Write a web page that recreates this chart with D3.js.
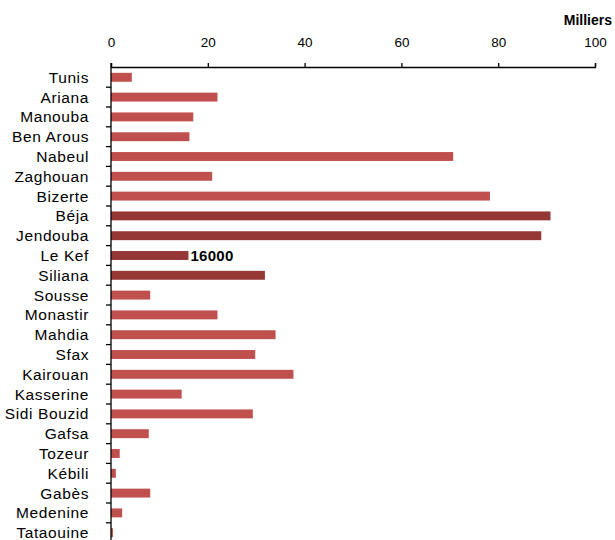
<!DOCTYPE html>
<html><head><meta charset="utf-8">
<script src="https://cdn.jsdelivr.net/npm/d3@7/dist/d3.min.js"></script>
<style>
body{margin:0;background:#fff;}
svg{display:block;font-family:"Liberation Sans",Arial,sans-serif;}
</style></head><body>
<svg id="c" width="615" height="540"></svg>
<script>
const categories = ["Tunis","Ariana","Manouba","Ben Arous","Nabeul","Zaghouan","Bizerte","Béja","Jendouba","Le Kef","Siliana","Sousse","Monastir","Mahdia","Sfax","Kairouan","Kasserine","Sidi Bouzid","Gafsa","Tozeur","Kébili","Gabès","Medenine","Tataouine"];
const values = [4.3,22.0,17.0,16.2,70.7,20.9,78.3,90.8,88.9,16.0,31.8,8.1,22.0,34.0,29.8,37.7,14.6,29.3,7.8,1.8,1.0,8.1,2.3,0.4];
const highlighted = ["Béja","Jendouba","Le Kef","Siliana"];
const xTicks = [0,20,40,60,80,100];
const unitLabel = "Milliers";
const annotated = {cat:"Le Kef", text:"16000"};

const svg = d3.select("#c");
const x = d3.scaleLinear().domain([0,100]).range([111,595]);
const y = d3.scaleBand().domain(categories).range([67.4, 67.4+24*19.8]).paddingInner(0.55).paddingOuter(0.275);

// bars
svg.append("g").selectAll("rect").data(categories).join("rect")
  .attr("x", x(0))
  .attr("y", d => y(d))
  .attr("width", (d,i) => x(values[i]) - x(0))
  .attr("height", y.bandwidth())
  .attr("fill", d => highlighted.includes(d) ? "#953735" : "#C0504D");

// top axis
const xa = svg.append("g").attr("transform","translate(0,67)")
  .call(d3.axisTop(x).tickValues(xTicks).tickSize(4).tickPadding(16).tickSizeOuter(4));
xa.select(".domain").attr("stroke","#000").attr("stroke-width",1.3);
xa.selectAll(".tick line").attr("stroke","#000").attr("stroke-width",1.3);
xa.selectAll("text").attr("font-size",13.5).attr("fill","#000").style("font-family","Liberation Sans, Arial, sans-serif");

// left axis with ticks at band boundaries
const yl = svg.append("g");
yl.append("line").attr("x1",x(0)).attr("x2",x(0)).attr("y1",63).attr("y2",545).attr("stroke","#000").attr("stroke-width",1.3);
const step = y.step();
const bounds = d3.range(categories.length+1).map(i => y.range()[0] + i*step);
yl.selectAll("line.t").data(bounds.slice(1)).join("line").attr("class","t")
  .attr("x1",x(0)-5).attr("x2",x(0)).attr("y1",d=>d).attr("y2",d=>d)
  .attr("stroke","#000").attr("stroke-width",1.3);
yl.selectAll("text").data(categories).join("text")
  .attr("x",89).attr("y",d=>y(d)+y.bandwidth()/2).attr("dy","0.36em")
  .attr("text-anchor","end").attr("font-size",15.5).attr("letter-spacing","0.6px")
  .attr("fill","#000").text(d=>d);

// unit label
svg.append("text").attr("x",612).attr("y",25).attr("text-anchor","end")
  .attr("font-size",14).attr("font-weight","bold").text(unitLabel);

// annotation
const ai = categories.indexOf(annotated.cat);
svg.append("text").attr("x", x(values[ai])+2).attr("y", y(annotated.cat)+y.bandwidth()/2).attr("dy","0.36em")
  .attr("font-size",15).attr("font-weight","bold").attr("letter-spacing","0.3px").text(annotated.text);
</script>
</body></html>
